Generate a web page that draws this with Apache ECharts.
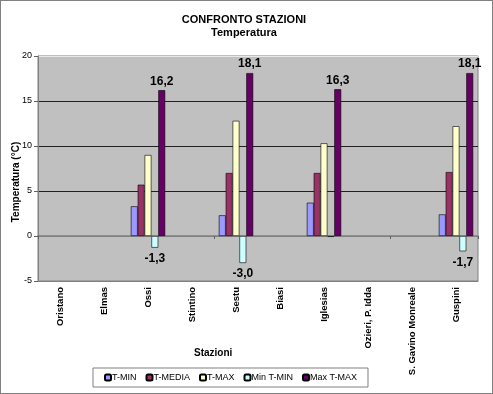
<!DOCTYPE html>
<html><head><meta charset="utf-8">
<script src="https://cdn.jsdelivr.net/npm/echarts@6/dist/echarts.min.js"></script>
<style>
html,body{margin:0;padding:0;background:#fff;}
#c{width:491px;height:392px;border:1px solid #808080;}
</style></head><body><div id="c"></div>
<script>
const categories = ['Oristano','Elmas','Ossi','Stintino','Sestu','Biasi','Iglesias','Ozieri, P. Idda','S. Gavino Monreale','Guspini'];
const tMin    = [null,null,3.3,null,2.3,null,3.7,null,null,2.4];
const tMedia  = [null,null,5.7,null,7.0,null,7.0,null,null,7.1];
const tMax    = [null,null,9.0,null,12.8,null,10.3,null,null,12.2];
const minTMin = [null,null,-1.3,null,-3.0,null,-0.1,null,null,-1.7];
const maxTMax = [null,null,16.2,null,18.1,null,16.3,null,null,18.1];
const yTicks = {min:-5, max:20, interval:5};

const chart = echarts.init(document.getElementById('c'));
const fmt = v => v.toFixed(1).replace('.', ',');
const font = 'Liberation Sans, Arial, sans-serif';
function bar(name, data, color, labelPos){
  return {
    name, type:'bar', data: data.map(v => v===null ? null : {
      value:v,
      label:{show: labelPos!==null && Math.abs(v)>=0.5}
    }),
    xAxisIndex:0,
    barGap:'0%', barCategoryGap:'22%',
    itemStyle:{color, borderColor:'#000', borderWidth:0.6},
    label:{position: labelPos||'top', fontFamily:font, fontWeight:'bold', fontSize:12, color:'#000',
      formatter: p => fmt(p.value), distance: labelPos==='bottom' ? 5 : 3}
  };
}
chart.setOption({
  animation:false,
  textStyle:{fontFamily:font},
  title:{text:'CONFRONTO STAZIONI', subtext:'Temperatura', left:238, textAlign:'center', top:8, itemGap:2,
    textStyle:{fontSize:11, fontWeight:'bold', color:'#000', fontFamily:font},
    subtextStyle:{fontSize:11, fontWeight:'bold', color:'#000', fontFamily:font}},
  grid:{left:37, right:14, top:55, bottom:112, show:true, backgroundColor:'#C0C0C0', borderColor:'#808080', borderWidth:1},
  legend:{left:92, top:367, itemWidth:6, itemHeight:6, itemGap:9,
    borderColor:'#808080', borderWidth:1, padding:[5,11,5,11],
    textStyle:{fontSize:9, color:'#000', fontFamily:font, padding:[0,0,0,-4]},
    data:['T-MIN','T-MEDIA','T-MAX','Min T-MIN','Max T-MAX']},
  xAxis:[
    {type:'category', data:categories, position:'bottom',
     axisLine:{onZero:false, lineStyle:{color:'#808080'}}, axisTick:{show:false},
     axisLabel:{rotate:90, fontSize:9.5, fontWeight:'bold', color:'#000', margin:6, interval:0, fontFamily:font}},
    {type:'category', data:categories, position:'bottom', gridIndex:0,
     axisLine:{onZero:true, lineStyle:{color:'#808080', width:1.5}},
     axisTick:{show:true, length:3, lineStyle:{color:'#606060'}},
     axisLabel:{show:false}}
  ],
  yAxis:{type:'value', min:yTicks.min, max:yTicks.max, interval:yTicks.interval,
    axisLine:{show:true, lineStyle:{color:'#808080'}}, axisTick:{show:true, length:4, lineStyle:{color:'#606060'}},
    axisLabel:{fontSize:9, color:'#000', margin:6, fontFamily:font},
    splitLine:{show:true, lineStyle:{color:['#808080','#808080','#202020','#202020','#202020','#e8e8e8'], width:1}}},
  graphic:[
    {type:'text', left:193, top:347, style:{text:'Stazioni', font:'bold 10px '+font, fill:'#000'}},
    {type:'text', x:15, y:181, rotation:Math.PI/2, style:{text:'Temperatura (°C)', font:'bold 10px '+font, fill:'#000', align:'center', verticalAlign:'middle'}}
  ],
  series:[
    bar('T-MIN', tMin, '#9999FF', null),
    bar('T-MEDIA', tMedia, '#993366', null),
    bar('T-MAX', tMax, '#FFFFCC', null),
    bar('Min T-MIN', minTMin, '#CCFFFF', 'bottom'),
    bar('Max T-MAX', maxTMax, '#660066', 'top')
  ]
});
</script></body></html>
